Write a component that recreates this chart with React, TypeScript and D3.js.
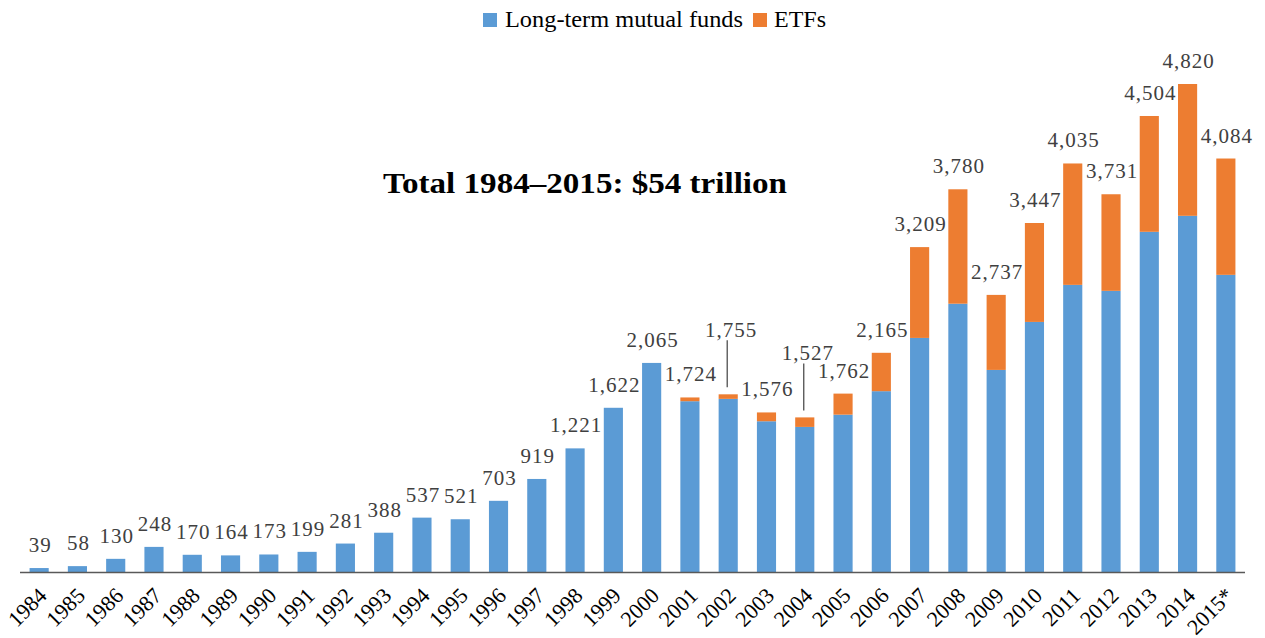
import React from "react";
import * as d3 from "d3";

const years = ["1984","1985","1986","1987","1988","1989","1990","1991","1992","1993","1994","1995","1996","1997","1998","1999","2000","2001","2002","2003","2004","2005","2006","2007","2008","2009","2010","2011","2012","2013","2014","2015*"];
const mutualFunds = [39,58,130,248,170,164,173,199,281,388,537,521,703,919,1221,1622,2065,1687,1710,1489,1433,1554,1786,2312,2650,1996,2470,2836,2777,3360,3518,2935];
const etfs = [0,0,0,0,0,0,0,0,0,0,0,0,0,0,0,0,0,37,45,87,94,208,379,897,1130,741,977,1199,954,1144,1302,1149];
const totalLabels = ["39","58","130","248","170","164","173","199","281","388","537","521","703","919","1,221","1,622","2,065","1,724","1,755","1,576","1,527","1,762","2,165","3,209","3,780","2,737","3,447","4,035","3,731","4,504","4,820","4,084"];
const leaderYears = ["2002", "2004"];
const seriesNames = ["Long-term mutual funds", "ETFs"];
const colors = ["#5B9BD5", "#ED7D31"];
const title = "Total 1984–2015: $54 trillion";

const W = 1265, H = 638;
const FONT = "Liberation Serif, Times New Roman, serif";

export default function App() {
  const x = d3.scaleBand<string>().domain(years).range([20, 1245]).paddingInner(0.5).paddingOuter(0.25);
  const y = d3.scaleLinear().domain([0, 4820]).range([572, 84]);
  const bw = x.bandwidth();
  const rows = years.map((yr, i) => ({ yr, mf: mutualFunds[i], etf: etfs[i], label: totalLabels[i] }));
  const stack = d3.stack<any>().keys(["mf", "etf"])(rows as any);

  return (
    <svg width={W} height={H} style={{ position: "absolute", left: 0, top: 0, background: "#fff", fontFamily: FONT }}>
      {/* legend */}
      <g>
        <rect x={483} y={13} width={14} height={14} fill={colors[0]} />
        <text x={505} y={27} fontSize={24} fill="#000" textLength={238} lengthAdjust="spacingAndGlyphs">{seriesNames[0]}</text>
        <rect x={753} y={13} width={14} height={14} fill={colors[1]} />
        <text x={774} y={27} fontSize={24} fill="#000" textLength={52} lengthAdjust="spacingAndGlyphs">{seriesNames[1]}</text>
      </g>
      {/* title */}
      <text x={383} y={193} fontSize={29} fontWeight="bold" fill="#000" textLength={404} lengthAdjust="spacingAndGlyphs">{title}</text>
      {/* bars */}
      {stack.map((s, si) => (
        <g key={si} fill={colors[si]}>
          {s.map((d: any, i: number) => {
            const h = y(d[0]) - y(d[1]);
            if (h <= 0) return null;
            return <rect key={i} x={x(years[i])!} y={y(d[1])} width={bw} height={h} />;
          })}
        </g>
      ))}
      {/* baseline */}
      <line x1={20} x2={1245} y1={572.5} y2={572.5} stroke="#595959" strokeWidth={1.3} />
      {/* data labels */}
      {rows.map((r, i) => {
        const cx = x(r.yr)! + bw / 2;
        const top = y(r.mf + r.etf);
        if (leaderYears.includes(r.yr)) {
          const by = top - 57;
          return (
            <g key={i}>
              <line x1={cx - 1} x2={cx - 1} y1={by + 3} y2={top - 7} stroke="#404040" strokeWidth={1.2} />
              <text x={cx + 3} y={by} fontSize={21} fill="#404040" textAnchor="middle" letterSpacing={1}>{r.label}</text>
            </g>
          );
        }
        return (
          <text key={i} x={cx + 1} y={top - 16} fontSize={21} fill="#404040" textAnchor="middle" letterSpacing={1}>{r.label}</text>
        );
      })}
      {/* x axis labels */}
      {years.map((yr) => {
        const cx = x(yr)! + bw / 2;
        return (
          <text key={yr} transform={`translate(${cx + 9},${597}) rotate(-45)`} fontSize={22} fill="#000" textAnchor="end">{yr}</text>
        );
      })}
    </svg>
  );
}
